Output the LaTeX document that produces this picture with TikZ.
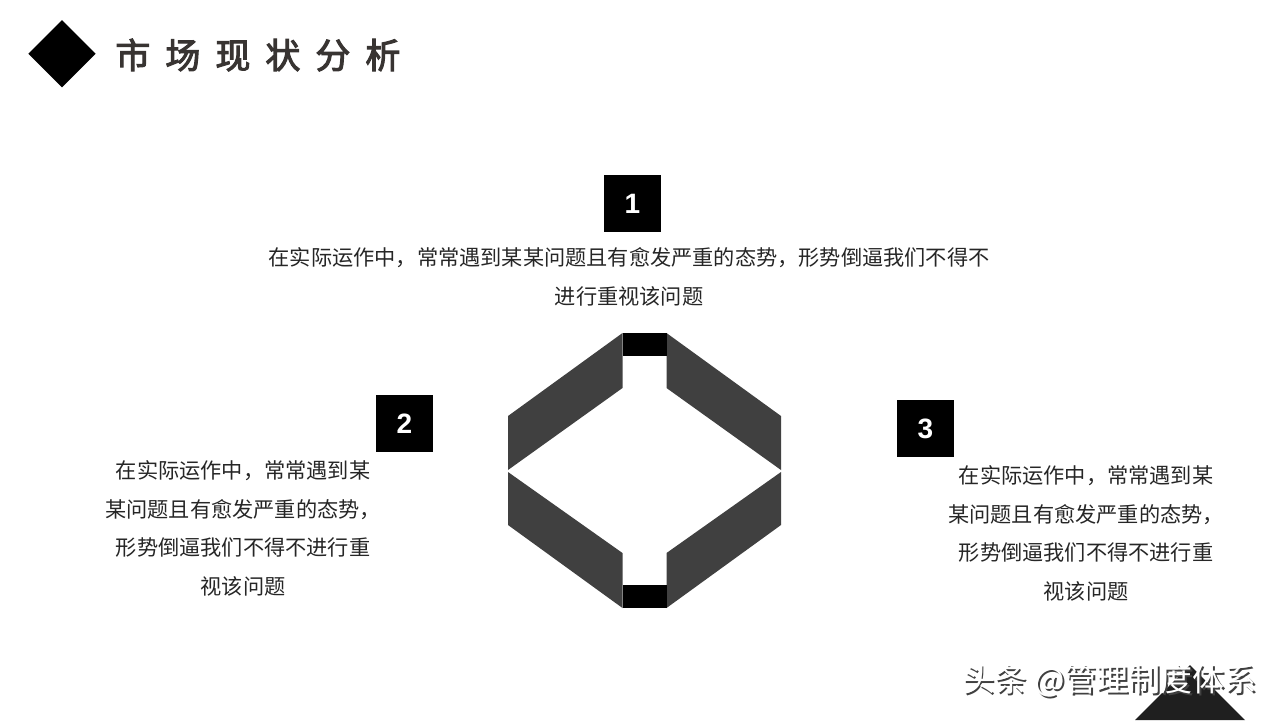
\documentclass[tikz,border=0pt]{standalone}
\usepackage{fontspec}
\setmainfont{Noto Sans CJK SC}
\newfontfamily\titlefont[FakeBold=3]{Noto Sans CJK SC}
\newfontfamily\numfont{Liberation Sans}
\usetikzlibrary{positioning}

\definecolor{bandgray}{RGB}{64,64,64}
\definecolor{titlegray}{RGB}{56,52,50}
\definecolor{bodygray}{RGB}{38,38,38}

\tikzset{
  numbox/.style={fill=black, text=white, minimum size=28.5pt, inner sep=0pt,
    font=\numfont\bfseries\fontsize{14pt}{14pt}\selectfont},
  bodytext/.style={text=bodygray, align=center, inner sep=0pt,
    font=\fontsize{10.6pt}{19.25pt}\selectfont},
  band/.style={fill=bandgray},
}

\newcommand\tgap{\hspace{7.5pt}}
\newcommand\shadowed[1]{\makebox[0pt][l]{\hspace{0.8pt}\raisebox{-0.8pt}{\textcolor{black!75}{#1}}}\textcolor{white}{#1}}

\begin{document}
\begin{tikzpicture}[x=0.5pt,y=-0.5pt]
\useasboundingbox (0,0) rectangle (1280,720);

% title
\fill (62,20) -- (95.7,53.7) -- (62,87.3) -- (28.3,53.7) -- cycle;
\node[anchor=west, inner sep=0pt, text=titlegray, font=\titlefont\fontsize{17.5pt}{17.5pt}\selectfont] (title) at (115,55)
  {市\tgap 场\tgap 现\tgap 状\tgap 分\tgap 析};

% hexagon
\fill[band] (622.5,333) -- (508,416) -- (508,470) -- (622.5,388) -- cycle;
\fill[band] (666.5,333) -- (781,416) -- (781,470) -- (666.5,388) -- cycle;
\fill[band] (508,472) -- (508,525) -- (622.5,608) -- (622.5,553) -- cycle;
\fill[band] (781,472) -- (781,525) -- (666.5,608) -- (666.5,553) -- cycle;
\fill (622.5,333) rectangle (666.5,356);
\fill (622.5,585) rectangle (666.5,608);

% numbered points
\node[numbox] (n1) at (632.5,203.5) {1};
\node[numbox] (n2) at (404.5,423.5) {2};
\node[numbox] (n3) at (925.5,428.5) {3};

\node[bodytext] (t1) at (629,277)
  {在实际运作中，常常遇到某某问题且有愈发严重的态势，形势倒逼我们不得不\\进行重视该问题};
\node[bodytext] (t2) at (243,528.5)
  {在实际运作中，常常遇到某\\某问题且有愈发严重的态势，\\形势倒逼我们不得不进行重\\视该问题};
\node[bodytext] (t3) at (1086,533.5)
  {在实际运作中，常常遇到某\\某问题且有愈发严重的态势，\\形势倒逼我们不得不进行重\\视该问题};

% corner
\fill[black!88] (1135,720) -- (1190,665) -- (1245,720) -- cycle;
\node[inner sep=0pt, font=\fontsize{16pt}{16pt}\selectfont] (mark) at (1110,682)
  {\shadowed{头条 @管理制度体系}};
\end{tikzpicture}
\end{document}
